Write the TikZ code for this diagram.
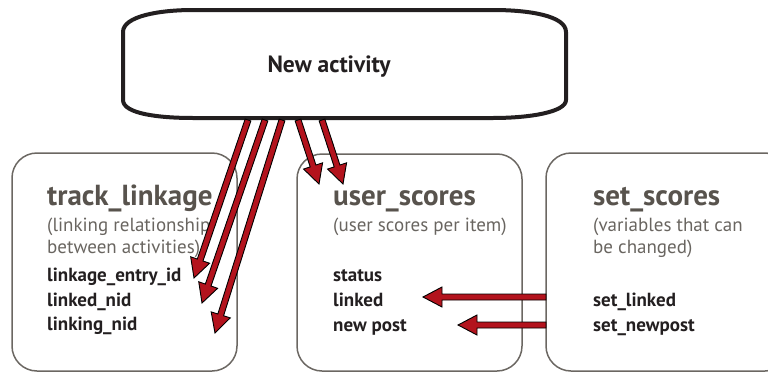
\documentclass[tikz,border=0pt]{standalone}
\usepackage{fontspec}
\setmainfont{PT Sans}
\usetikzlibrary{calc}

\newcommand{\fatarrow}[2]{%
  \draw[arrowshape] ($(#1)!3pt!90:(#2)$) -- ($(#2)!19pt!(#1)!3pt!-90:(#1)$)
    -- ($(#2)!19pt!(#1)!10pt!-90:(#1)$) -- (#2)
    -- ($(#2)!19pt!(#1)!10pt!90:(#1)$) -- ($(#2)!19pt!(#1)!3pt!90:(#1)$)
    -- ($(#1)!3pt!-90:(#2)$) -- cycle;}

\begin{document}
\begin{tikzpicture}[x=1pt, y=-1pt,
  tabletitle/.style={anchor=base west, inner sep=0pt, text=titlegray, font=\fontsize{29}{34}\selectfont\bfseries},
  tablenote/.style={anchor=base west, inner sep=0pt, text=notegray, font=\fontsize{19}{23}\selectfont},
  tablefield/.style={anchor=base west, inner sep=0pt, text=fieldblack, font=\fontsize{19}{23}\selectfont\bfseries},
  tablebox/.style={draw=boxgray, line width=1.5pt, rounded corners=25pt},
  arrowshape/.style={draw=black, fill=arrowred, line width=0.9pt, line join=miter}]

\definecolor{titlegray}{RGB}{88, 83, 77}
\definecolor{notegray}{RGB}{105, 101, 96}
\definecolor{fieldblack}{RGB}{35, 31, 32}
\definecolor{boxgray}{RGB}{107, 103, 98}
\definecolor{arrowred}{RGB}{179, 19, 29}

\useasboundingbox (0, 0) rectangle (768, 372);

% activity box
\draw[line width=4pt, draw=fieldblack, line join=round] (193, 10) -- (493, 10)
  .. controls (530, 10) and (566, 16) .. (566, 32) -- (566, 100)
  .. controls (566, 112) and (530, 118) .. (493, 118) -- (193, 118)
  .. controls (160, 118) and (123, 114) .. (123, 100) -- (123, 32)
  .. controls (123, 16) and (160, 10) .. (193, 10) -- cycle;
\node[anchor=base, inner sep=0pt, text=fieldblack, font=\fontsize{23.5}{28}\selectfont\bfseries] (newact) at (329, 72) {New activity};

% tables
\draw[tablebox] (12, 153) rectangle (237, 371);
\draw[tablebox] (297, 154) rectangle (522, 371);
\draw[tablebox] (546, 153) rectangle (790, 371);

\node[tabletitle] (linktitle) at (47, 205) {track\_linkage};
\node[tablenote] (linknote1) at (47, 231) {(linking relationship};
\node[tablenote] (linknote2) at (47, 253) {between activities)};
\node[tablefield] (linkentry) at (47, 281) {linkage\_entry\_id};
\node[tablefield] (linkednid) at (47, 306) {linked\_nid};
\node[tablefield] (linkingnid) at (47, 330) {linking\_nid};

\node[tabletitle] (usertitle) at (333, 205) {user\_scores};
\node[tablenote] (usernote) at (333, 231) {(user scores per item)};
\node[tablefield] (userstatus) at (333, 281) {status};
\node[tablefield] (userlinked) at (333, 306) {linked};
\node[tablefield] (userpost) at (333, 331) {new post};

\node[tabletitle] (settitle) at (593, 205) {set\_scores};
\node[tablenote] (setnote1) at (593, 231) {(variables that can};
\node[tablenote] (setnote2) at (593, 253) {be changed)};
\node[tablefield] (setlinked) at (593, 306) {set\_linked};
\node[tablefield] (setpost) at (593, 331) {set\_newpost};

% arrows
\coordinate (s1) at (248, 120);
\coordinate (s2) at (265, 120);
\coordinate (s3) at (282, 120);
\coordinate (s4) at (298, 120);
\coordinate (s5) at (322, 120);
\coordinate (t1) at (194, 278);
\coordinate (t2) at (202, 303);
\coordinate (t3) at (215, 333);
\coordinate (t4) at (319, 184);
\coordinate (t5) at (343, 184);
\coordinate (s6) at (546, 297);
\coordinate (s7) at (546, 325);
\coordinate (t6) at (423, 297);
\coordinate (t7) at (458, 325);

\fatarrow{s1}{t1}
\fatarrow{s2}{t2}
\fatarrow{s3}{t3}
\fatarrow{s4}{t4}
\fatarrow{s5}{t5}
\fatarrow{s6}{t6}
\fatarrow{s7}{t7}

\end{tikzpicture}
\end{document}
